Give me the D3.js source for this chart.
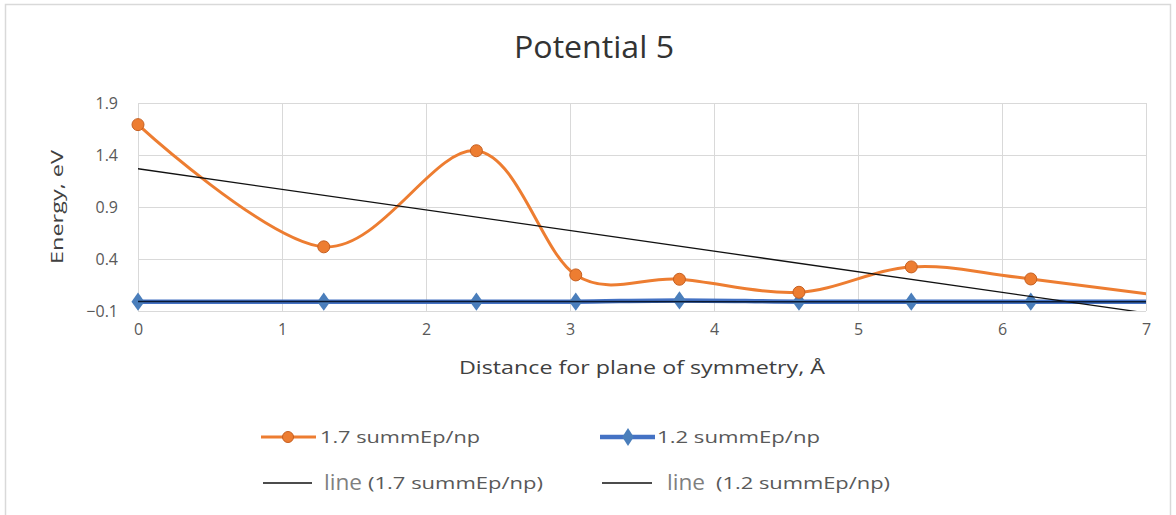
<!DOCTYPE html>
<html>
<head>
<meta charset="utf-8">
<script src="https://cdn.jsdelivr.net/npm/d3@7"></script>
<style>
  html, body { margin: 0; padding: 0; background: #fff; }
  svg { display: block; }
  text { font-family: "Open Sans", "Noto Sans", sans-serif; }
</style>
</head>
<body>
<svg id="chart" width="1176" height="515"></svg>
<script>
// ---- data ----
const xValues   = [0, 1.29, 2.35, 3.04, 3.76, 4.59, 5.37, 6.2, 7.8];
const series17  = [1.692, 0.517, 1.441, 0.247, 0.205, 0.080, 0.324, 0.208, -0.08];
const series12  = [-0.010, -0.010, -0.010, -0.010, 0.002, -0.010, -0.010, -0.010, -0.010];
const trendX    = [0, 7.8];
const trend17   = [1.268, -0.277];
const trend12   = [-0.008, -0.012];
const xTicks    = [0, 1, 2, 3, 4, 5, 6, 7];
const yTicks    = [-0.1, 0.4, 0.9, 1.4, 1.9];
const titleText = "Potential 5";
const xTitle    = "Distance for plane of symmetry, Å";
const yTitle    = "Energy,  eV";
const legendNames = ["1.7 summEp/np", "1.2 summEp/np", "(1.7 summEp/np)", "(1.2 summEp/np)"];

(function () {
// ---- layout ----
const svg = d3.select("#chart");
const pL = 138, pR = 1146, pT = 103, pB = 311;
const x = d3.scaleLinear().domain([0, 7]).range([pL, pR]);
const y = d3.scaleLinear().domain([-0.1, 1.9]).range([pB, pT]);

const orange = "#ED7D31", blue = "#4472C4";

// outer border
svg.append("rect").attr("x", 5.5).attr("y", 4.5).attr("width", 1165).attr("height", 520)
  .attr("fill", "#fff").attr("stroke", "#d9d9d9").attr("stroke-width", 1.5);

// title
svg.append("text").attr("x", 594).attr("y", 58).attr("text-anchor", "middle")
  .attr("font-size", 31).attr("fill", "#333")
  .attr("textLength", 160).attr("lengthAdjust", "spacingAndGlyphs").text(titleText);

// grid
const grid = svg.append("g");
grid.selectAll("line.v").data(xTicks).enter().append("line")
  .attr("x1", d => x(d)).attr("x2", d => x(d)).attr("y1", pT).attr("y2", pB)
  .attr("stroke", "#d9d9d9").attr("stroke-width", 1).attr("shape-rendering", "crispEdges");
grid.selectAll("line.h").data(yTicks).enter().append("line")
  .attr("x1", pL).attr("x2", pR).attr("y1", d => y(d)).attr("y2", d => y(d))
  .attr("stroke", "#d9d9d9").attr("stroke-width", 1).attr("shape-rendering", "crispEdges");

// axes (labels only)
const xAxis = svg.append("g").attr("transform", `translate(0,${pB})`)
  .call(d3.axisBottom(x).tickValues(xTicks).tickSize(0).tickPadding(13).tickFormat(d3.format("d")));
const yAxis = svg.append("g").attr("transform", `translate(${pL},0)`)
  .call(d3.axisLeft(y).tickValues(yTicks).tickSize(0).tickPadding(20).tickFormat(d3.format(".1f")));
[xAxis, yAxis].forEach(a => {
  a.select(".domain").remove();
  a.selectAll("text").attr("font-size", 16).attr("fill", "#595959")
    .attr("font-family", "'Open Sans', sans-serif");
});

// axis titles
svg.append("text").attr("x", 642).attr("y", 374).attr("text-anchor", "middle")
  .attr("font-size", 18).attr("fill", "#404040")
  .attr("textLength", 366).attr("lengthAdjust", "spacingAndGlyphs").text(xTitle);
svg.append("text").attr("transform", "translate(63,207) rotate(-90)").attr("text-anchor", "middle")
  .attr("font-size", 17).attr("fill", "#404040").attr("font-family", "'DejaVu Sans', sans-serif")
  .attr("textLength", 114).attr("lengthAdjust", "spacingAndGlyphs").text(yTitle);

// clip
svg.append("clipPath").attr("id", "plotclip").append("rect")
  .attr("x", pL).attr("y", pT - 10).attr("width", pR - pL).attr("height", pB - pT + 10);
svg.append("clipPath").attr("id", "lineclip").append("rect")
  .attr("x", pL - 10).attr("y", pT - 10).attr("width", pR - pL + 10).attr("height", pB - pT + 10);

const plot = svg.append("g");

const d17 = xValues.map((v, i) => [v, series17[i]]);
const d12 = xValues.map((v, i) => [v, series12[i]]);
const smooth = d3.line().x(d => x(d[0])).y(d => y(d[1])).curve(d3.curveCardinal.tension(0));
const straight = d3.line().x(d => x(d[0])).y(d => y(d[1]));

// blue series
plot.append("path").attr("clip-path", "url(#lineclip)").attr("d", smooth(d12))
  .attr("fill", "none").attr("stroke", blue).attr("stroke-width", 4.5);
const diamond = d3.symbol().type(d3.symbolDiamond).size(95);
plot.append("g").selectAll("path").data(d12.filter(d => d[0] <= 7)).enter()
  .append("path").attr("d", diamond)
  .attr("transform", d => `translate(${x(d[0])},${y(d[1])}) scale(1.25,1)`)
  .attr("fill", "#4a7ebb");

// orange series
plot.append("path").attr("clip-path", "url(#lineclip)").attr("d", smooth(d17))
  .attr("fill", "none").attr("stroke", orange).attr("stroke-width", 3);
plot.append("g").selectAll("circle").data(d17.filter(d => d[0] <= 7)).enter()
  .append("circle").attr("cx", d => x(d[0])).attr("cy", d => y(d[1])).attr("r", 6)
  .attr("fill", orange).attr("stroke", "#c65f20").attr("stroke-width", 1);

// trend lines
const t17 = trendX.map((v, i) => [v, trend17[i]]);
const t12 = trendX.map((v, i) => [v, trend12[i]]);
plot.append("path").attr("clip-path", "url(#plotclip)").attr("d", straight(t12))
  .attr("fill", "none").attr("stroke", "#0a1a33").attr("stroke-width", 1.5);
plot.append("path").attr("clip-path", "url(#plotclip)").attr("d", straight(t17))
  .attr("fill", "none").attr("stroke", "#111").attr("stroke-width", 1.3);

// legend
const lg = svg.append("g");
lg.append("line").attr("x1", 261).attr("x2", 316).attr("y1", 437).attr("y2", 437)
  .attr("stroke", orange).attr("stroke-width", 3);
lg.append("circle").attr("cx", 288).attr("cy", 437).attr("r", 5.5)
  .attr("fill", orange).attr("stroke", "#c65f20").attr("stroke-width", 1);
lg.append("text").attr("x", 320).attr("y", 443).attr("font-size", 17).attr("fill", "#595959")
  .attr("textLength", 160).attr("lengthAdjust", "spacingAndGlyphs").text(legendNames[0]);
lg.append("line").attr("x1", 600).attr("x2", 655).attr("y1", 437).attr("y2", 437)
  .attr("stroke", blue).attr("stroke-width", 4.5);
lg.append("path").attr("d", diamond).attr("transform", "translate(628,437) scale(1.1,1)").attr("fill", "#4a7ebb");
lg.append("text").attr("x", 657).attr("y", 443).attr("font-size", 17).attr("fill", "#595959")
  .attr("textLength", 163).attr("lengthAdjust", "spacingAndGlyphs").text(legendNames[1]);

lg.append("line").attr("x1", 263).attr("x2", 312).attr("y1", 483).attr("y2", 483)
  .attr("stroke", "#111").attr("stroke-width", 1.5);
lg.append("text").attr("x", 324).attr("y", 490).attr("font-size", 21).attr("fill", "#7f7f7f")
  .attr("textLength", 38).attr("lengthAdjust", "spacingAndGlyphs").text("line");
lg.append("text").attr("x", 368).attr("y", 489).attr("font-size", 16).attr("fill", "#595959")
  .attr("textLength", 175).attr("lengthAdjust", "spacingAndGlyphs").text(legendNames[2]);

lg.append("line").attr("x1", 602).attr("x2", 652).attr("y1", 483).attr("y2", 483)
  .attr("stroke", "#111").attr("stroke-width", 1.5);
lg.append("text").attr("x", 667).attr("y", 490).attr("font-size", 21).attr("fill", "#7f7f7f")
  .attr("textLength", 38).attr("lengthAdjust", "spacingAndGlyphs").text("line");
lg.append("text").attr("x", 716).attr("y", 489).attr("font-size", 16).attr("fill", "#595959")
  .attr("textLength", 174).attr("lengthAdjust", "spacingAndGlyphs").text(legendNames[3]);
})();
</script>
</body>
</html>
